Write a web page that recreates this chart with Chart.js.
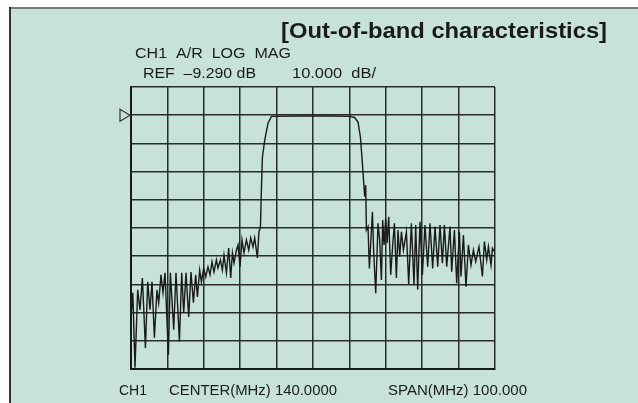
<!DOCTYPE html>
<html>
<head>
<meta charset="utf-8">
<script src="https://cdn.jsdelivr.net/npm/chart.js@4.4.1/dist/chart.umd.min.js"></script>
<style>
  html, body { margin: 0; padding: 0; background: #ffffff; }
  #wrap { width: 638px; height: 403px; position: relative; }
</style>
</head>
<body>
<div id="wrap"><canvas id="myChart" width="638" height="403"></canvas></div>
<script>
// Frequency points (MHz)
var freqMHz = [
  90.0, 90.5, 91.1, 91.84, 92.47, 93.13, 93.96, 94.59, 95.22, 95.77,
  96.43, 97.14, 97.61, 98.24, 98.79, 99.34, 100.27, 100.82, 101.73, 102.36,
  103.3, 103.93, 104.48, 105.11, 105.85, 106.48, 107.14, 107.77, 108.24, 108.87,
  109.34, 109.97, 110.52, 111.15, 111.7, 112.25, 112.8, 113.46, 113.9, 114.56,
  115.11, 115.55, 116.21, 116.84, 117.39, 117.86, 118.3, 118.96, 119.4, 119.95,
  120.49, 121.04, 121.7, 122.34, 122.88, 123.52, 123.98, 124.73, 125.16, 125.55,
  125.82, 126.1, 126.73, 127.64, 128.57, 136.35, 144.59, 150.09, 151.46, 152.36,
  153.02, 153.57, 154.01, 154.2, 154.48, 154.67, 155.11, 155.49, 156.32, 156.68,
  157.23, 157.86, 158.32, 158.79, 159.15, 159.51, 159.97, 160.38, 160.8, 161.35,
  161.9, 162.36, 162.91, 163.35, 163.82, 164.29, 164.84, 165.66, 166.29, 167.03,
  167.75, 168.21, 168.76, 169.4, 170.05, 170.77, 171.51, 172.14, 172.88, 173.52,
  174.26, 174.89, 175.55, 176.1, 176.73, 177.64, 178.1, 178.85, 179.48, 180.22,
  180.66, 181.32, 182.03, 182.69, 183.41, 184.07, 184.7, 185.6, 186.54, 187.09,
  187.72, 188.19, 188.9, 189.29, 189.84
];

// Measured A/R magnitude (dB)
var magDb = [
  -81.1, -72.3, -98.8, -71.2, -78.3, -67.0, -91.8, -68.4, -78.3, -68.4,
  -88.2, -71.2, -75.8, -65.9, -72.3, -65.2, -94.2, -65.2, -85.4, -65.2,
  -89.6, -65.2, -79.4, -65.2, -80.8, -64.9, -75.8, -65.9, -73.7, -64.2,
  -68.4, -63.5, -66.6, -63.1, -65.9, -61.3, -64.9, -60.6, -63.5, -60.6,
  -64.2, -58.9, -65.2, -56.4, -67.0, -58.1, -61.7, -57.1, -55.3, -63.1,
  -53.5, -58.1, -53.5, -57.1, -52.8, -56.0, -52.8, -59.9, -50.4, -49.3,
  -35.9, -24.2, -18.2, -12.1, -9.7, -9.6, -9.6, -9.7, -10.1, -11.7,
  -17.0, -26.4, -34.7, -38.2, -34.1, -50.0, -48.8, -63.6, -43.5, -58.1,
  -72.4, -47.6, -53.5, -67.7, -46.5, -55.3, -45.9, -54.6, -45.3, -65.9,
  -55.3, -47.6, -67.0, -50.0, -59.5, -50.6, -57.1, -50.6, -69.1, -47.6,
  -69.5, -48.2, -71.2, -47.1, -65.9, -48.2, -63.0, -47.6, -63.6, -48.8,
  -63.0, -48.2, -61.8, -48.2, -63.0, -48.8, -64.8, -50.0, -68.9, -50.6,
  -66.5, -51.8, -70.1, -55.3, -62.4, -57.1, -61.2, -55.9, -66.5, -54.1,
  -60.6, -55.9, -62.4, -56.5, -57.7
];

// Grid: 10 dB/div around REF -9.290 dB, 10 MHz/div around 140 MHz
var refDb = -9.29;
var yTicks = [0.71, -9.29, -19.29, -29.29, -39.29, -49.29, -59.29, -69.29, -79.29, -89.29, -99.29];
var xTicks = [90, 100, 110, 120, 130, 140, 150, 160, 170, 180, 190];

var points = [];
for (var i = 0; i < freqMHz.length; i++) {
    points.push({ x: freqMHz[i], y: magDb[i] });
}

var FONT = '"Liberation Sans", Arial, Helvetica, sans-serif';

// the screen font is wider than ours, so stretch text to a given width
function fitText(c, text, x, y, w) {
    var mw = c.measureText(text).width;
    c.save();
    c.translate(x, y);
    c.scale(w / mw, 1);
    c.fillText(text, 0, 0);
    c.restore();
}

// panel background + texts + ref marker
var panelPlugin = {
    id: 'panel',
    beforeDraw: function (chart) {
        var c = chart.ctx;
        c.save();
        c.fillStyle = '#ffffff';
        c.fillRect(0, 0, chart.width, chart.height);
        c.fillStyle = '#c7e3d9';
        c.fillRect(10, 8, chart.width - 10, chart.height - 8);
        c.fillStyle = '#7a7a7a';
        c.fillRect(10, 7, chart.width - 10, 2);
        c.fillStyle = '#333333';
        c.fillRect(9, 7, 2, chart.height - 7);
        c.restore();
    },
    afterDraw: function (chart) {
        var c = chart.ctx;
        c.save();
        c.fillStyle = '#1a1a1a';
        c.textBaseline = 'alphabetic';
        c.textAlign = 'left';

        c.font = 'bold 22px ' + FONT;
        fitText(c, '[Out-of-band characteristics]', 281, 38, 326);

        c.font = '14.5px ' + FONT;
        fitText(c, 'CH1  A/R  LOG  MAG', 135, 58, 156);
        fitText(c, 'REF  \u20139.290 dB', 143, 78, 113);
        fitText(c, '10.000  dB/', 292, 78, 84);

        c.font = '15px ' + FONT;
        fitText(c, 'CH1', 119, 395, 28);
        fitText(c, 'CENTER(MHz) 140.0000', 169, 395, 168);
        fitText(c, 'SPAN(MHz) 100.000', 388, 395, 139);

        // reference triangle
        var yy = chart.scales.y.getPixelForValue(refDb);
        var xx = chart.chartArea.left;
        c.strokeStyle = '#333333';
        c.lineWidth = 1.2;
        c.beginPath();
        c.moveTo(xx - 11, yy - 6);
        c.lineTo(xx - 1, yy);
        c.lineTo(xx - 11, yy + 6);
        c.closePath();
        c.stroke();
        c.restore();
    }
};

var ctx = document.getElementById('myChart').getContext('2d');
var myChart = new Chart(ctx, {
    type: 'line',
    data: {
        datasets: [{
            data: points,
            borderColor: '#1a1a1a',
            borderWidth: 1.4,
            pointRadius: 0,
            tension: 0,
            fill: false
        }]
    },
    options: {
        responsive: false,
        animation: false,
        layout: { padding: { left: 131, top: 87, right: 143, bottom: 34 } },
        plugins: {
            legend: { display: false },
            tooltip: { enabled: false }
        },
        scales: {
            x: {
                type: 'linear',
                min: 90,
                max: 190,
                afterBuildTicks: function (scale) {
                    scale.ticks = xTicks.map(function (v) { return { value: v }; });
                },
                ticks: { display: false },
                grid: { color: '#2b2b2b', lineWidth: 1.5, drawTicks: false },
                border: { color: '#1a1a1a', width: 2 }
            },
            y: {
                type: 'linear',
                min: -99.29,
                max: 0.71,
                afterBuildTicks: function (scale) {
                    scale.ticks = yTicks.map(function (v) { return { value: v }; });
                },
                ticks: { display: false },
                grid: { color: '#2b2b2b', lineWidth: 1.5, drawTicks: false },
                border: { color: '#1a1a1a', width: 2 }
            }
        }
    },
    plugins: [panelPlugin]
});
</script>
</body>
</html>
